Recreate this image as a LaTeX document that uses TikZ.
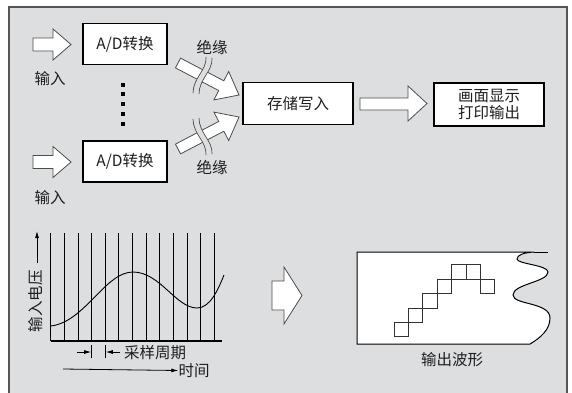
\documentclass[tikz,border=0pt]{standalone}
\usepackage{fontspec}
\setmainfont{Noto Sans CJK SC}
\usetikzlibrary{arrows.meta}
\definecolor{bg}{RGB}{221,222,224}
\definecolor{framec}{RGB}{85,85,85}
\definecolor{ink}{RGB}{30,30,30}
\begin{document}
\begin{tikzpicture}[x=1pt,y=-1pt,
  box/.style={draw=black, line width=1.8pt, fill=white, inner sep=0pt, font=\fontsize{15.5}{17}\selectfont, text=ink, align=center},
  lbl/.style={font=\fontsize{15.5}{17}\selectfont, inner sep=0pt, text=ink},
  barrow/.style={draw=black!70, line width=0.8pt, fill=white, line join=miter},
  breakline/.style={draw=black!70, line width=0.7pt},
  thin/.style={draw=black, line width=0.8pt},
  sq/.style={draw=black!80, line width=1pt},
  tip/.style={-{Latex[length=7pt,width=4pt]}}
]
\useasboundingbox (0,0) rectangle (572,392);
\fill[white] (0,0) rectangle (572,392);
\fill[bg] (9,7) rectangle (567,400);
\draw[framec, line width=1.5pt] (9,400) -- (9,7) -- (567,7) -- (567,400);

% ---------- top block diagram ----------
\node[box, minimum width=84pt, minimum height=41pt] (ad1) at (125,44) {A/D转换};
\node[box, minimum width=84pt, minimum height=41pt] (ad2) at (125,161.5) {A/D转换};
\node[box, minimum width=110pt, minimum height=42pt] (mem) at (298,103.5) {存储写入};
\node[box, minimum width=110pt, minimum height=43pt] (disp) at (489,104.5) {画面显示\\打印输出};

\node[lbl] (in1) at (50,79) {输入};
\node[lbl] (in2) at (50,197.5) {输入};
\node[lbl] (iso1) at (212,48) {绝缘};
\node[lbl] (iso2) at (212,168) {绝缘};

% input arrows
\draw[barrow] (33,38) -- (53,38) -- (53,29) -- (71,44.5) -- (53,60) -- (53,51) -- (33,51) -- cycle;
\draw[barrow] (33,155.5) -- (53,155.5) -- (53,146.5) -- (71,162) -- (53,177.5) -- (53,168.5) -- (33,168.5) -- cycle;

% dots
\foreach \yy in {84.5,94.3,104.1,113.9,123.5}
  \fill[black] (121,\yy-2) rectangle (125,\yy+2);

% insulated arrows
\draw[barrow] (180.55,58.13) -- (223.85,80.8) -- (228.7,71.5) -- (239,95) -- (213.9,99.9) -- (218.75,90.57) -- (175.45,67.87) -- cycle;
\fill[bg] (206,57) .. controls (207,70) and (193,78) .. (193,93) -- (199,94) .. controls (199,79) and (213,71) .. (212,58) -- cycle;
\draw[breakline] (206,57) .. controls (207,70) and (193,78) .. (193,93);
\draw[breakline] (212,58) .. controls (213,71) and (199,79) .. (199,94);

\draw[barrow] (180.55,153.87) -- (223.85,131.2) -- (228.7,140.5) -- (239,117) -- (213.9,112.1) -- (218.75,121.43) -- (175.45,144.13) -- cycle;
\fill[bg] (206,155) .. controls (207,142) and (193,134) .. (193,119) -- (199,118) .. controls (199,133) and (213,141) .. (212,154) -- cycle;
\draw[breakline] (206,155) .. controls (207,142) and (193,134) .. (193,119);
\draw[breakline] (212,154) .. controls (213,141) and (199,133) .. (199,118);

% arrow memory -> display
\draw[barrow] (360,98) -- (408,98) -- (408,86) -- (427,103.5) -- (408,121) -- (408,110) -- (360,110) -- cycle;

% ---------- bottom left graph ----------
\foreach \i in {0,...,12}
  \draw[thin] (50.7+13.62*\i,233) -- (50.7+13.62*\i,341);
\draw[thin, line width=1.2pt] (50.7,341) -- (222,341);
\draw[thin, line width=0.9pt] (50.7,326) .. controls (85,322) and (105,272) .. (133,272)
  .. controls (160,272) and (176,308) .. (197,308)
  .. controls (210,308) and (218,290) .. (224,275);

\coordinate (ya) at (37,263);
\coordinate (yb) at (37,231);
\draw[thin, tip] (ya) -- (yb);
\node[lbl, rotate=90] (ylab) at (36,301) {输入电压};

\coordinate (s1a) at (77,352);
\coordinate (s1b) at (91.2,352);
\coordinate (s2a) at (120,352);
\coordinate (s2b) at (105.8,352);
\draw[thin, tip] (s1a) -- (s1b);
\draw[thin, tip] (s2a) -- (s2b);
\draw[thin] (91.7,345) -- (91.7,358);
\draw[thin] (105.3,345) -- (105.3,358);
\node[lbl] (period) at (155,352.5) {采样周期};

\coordinate (ta) at (63,369);
\node[lbl] (time) at (194,370.5) {时间};
\draw[thin, tip] (ta) -- (time.west);

% middle arrow
\draw[barrow] (272,281) -- (284,281) -- (284,267) -- (302,295.5) -- (284,324) -- (284,310) -- (272,310) -- cycle;

% ---------- output waveform ----------
\draw[black, line width=1pt, fill=white] (357,252) -- (534,252)
  .. controls (524,252.5) and (517,255) .. (517,259)
  .. controls (517,264) and (548,265) .. (548,272)
  .. controls (548,282) and (513,284) .. (513,295)
  .. controls (513,305) and (550,302) .. (550,318)
  .. controls (550,330) and (540,338) .. (530,344)
  -- (357,344) -- cycle;
\draw[black, line width=1pt] (534,252) -- (548,252);
\foreach \c/\r in {0/0,1/-1,2/-2,3/-3,4/-4,5/-4,6/-3}
  \draw[sq] (394+14.4*\c,322.5+14.4*\r) rectangle ++(14.4,14.4);
\node[lbl] (outlab) at (452,360) {输出波形};
\end{tikzpicture}
\end{document}
